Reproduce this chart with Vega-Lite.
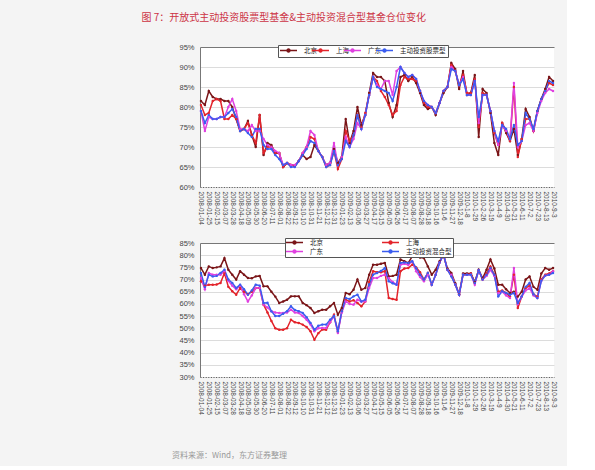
{
"$schema": "https://vega.github.io/schema/vega-lite/v6.json",
"background": "#f4f4f4",
"padding": {"left": 141, "top": 13, "right": 10, "bottom": 5},
"title": {"text": "图 7：开放式主动投资股票型基金&主动投资混合型基金仓位变化", "anchor": "start", "offset": 20, "dx": -30.5, "fontSize": 10, "fontWeight": "normal", "color": "#cc3344", "font": "Noto Sans CJK SC"},
"datasets": {
"stk": [
{"d":"2008-01-04","b":81.5,"s":80.5,"g":79,"z":79},
{"d":"2008-01-11","b":80.5,"s":78,"g":74,"z":76},
{"d":"2008-01-25","b":84,"s":78.5,"g":77.5,"z":78},
{"d":"2008-02-01","b":82.5,"s":81.5,"g":77,"z":77},
{"d":"2008-02-15","b":82,"s":82,"g":77,"z":77},
{"d":"2008-02-22","b":82,"s":81.5,"g":77.5,"z":77.5},
{"d":"2008-03-07","b":81.5,"s":77,"g":77.5,"z":77.5},
{"d":"2008-03-14","b":81.5,"s":77,"g":80,"z":78.5},
{"d":"2008-03-28","b":80,"s":78,"g":82,"z":79.5},
{"d":"2008-04-04","b":77,"s":77,"g":79,"z":77.5},
{"d":"2008-04-18","b":74,"s":74,"g":74.5,"z":74},
{"d":"2008-04-25","b":74.5,"s":74.5,"g":74.5,"z":74.5},
{"d":"2008-05-09","b":76.5,"s":76,"g":74,"z":73.5},
{"d":"2008-05-16","b":73,"s":73,"g":75.5,"z":72.5},
{"d":"2008-05-30","b":70,"s":71,"g":74,"z":74.5},
{"d":"2008-06-06","b":78,"s":78,"g":74,"z":74.5},
{"d":"2008-06-20","b":68,"s":68.5,"g":72,"z":70.5},
{"d":"2008-06-27","b":71,"s":70,"g":70.5,"z":69.5},
{"d":"2008-07-11","b":70.5,"s":70,"g":70,"z":69.5},
{"d":"2008-07-18","b":68.5,"s":68.5,"g":69,"z":68},
{"d":"2008-08-01","b":68.5,"s":68.5,"g":68.5,"z":67},
{"d":"2008-08-08","b":65,"s":65,"g":65.5,"z":65.5},
{"d":"2008-08-22","b":66,"s":66,"g":66,"z":66},
{"d":"2008-08-29","b":65.5,"s":65.5,"g":65.5,"z":65},
{"d":"2008-09-12","b":65.3,"s":65.3,"g":65.5,"z":65},
{"d":"2008-09-19","b":66.5,"s":66.5,"g":66.5,"z":66.5},
{"d":"2008-10-10","b":68,"s":68.5,"g":68.5,"z":68},
{"d":"2008-10-17","b":67,"s":70,"g":70,"z":69.5},
{"d":"2008-10-31","b":67.5,"s":72.5,"g":74,"z":71.5},
{"d":"2008-11-07","b":70.5,"s":72,"g":73,"z":71},
{"d":"2008-11-21","b":69,"s":69,"g":69,"z":69},
{"d":"2008-11-28","b":67.5,"s":67.5,"g":67.5,"z":67.5},
{"d":"2008-12-12","b":65.5,"s":65,"g":65.5,"z":65},
{"d":"2008-12-19","b":66,"s":65.5,"g":66,"z":65.5},
{"d":"2008-12-31","b":69.5,"s":69,"g":71,"z":69},
{"d":"2009-01-09","b":66,"s":64.5,"g":65.5,"z":65.5},
{"d":"2009-01-23","b":67.5,"s":67,"g":67.5,"z":67},
{"d":"2009-01-30","b":77,"s":74,"g":72.5,"z":71.5},
{"d":"2009-02-13","b":71,"s":71.5,"g":70,"z":70},
{"d":"2009-02-20","b":74,"s":73,"g":72,"z":73},
{"d":"2009-03-06","b":80,"s":78,"g":76,"z":78},
{"d":"2009-03-13","b":75.5,"s":75,"g":74.5,"z":74.5},
{"d":"2009-03-27","b":78,"s":78.5,"g":78,"z":78},
{"d":"2009-04-03","b":83.5,"s":83,"g":83,"z":83},
{"d":"2009-04-17","b":88.5,"s":87.5,"g":87.5,"z":87.5},
{"d":"2009-04-24","b":87.5,"s":86.5,"g":85.5,"z":85},
{"d":"2009-05-15","b":87.5,"s":84,"g":84.5,"z":84.5},
{"d":"2009-05-22","b":86.5,"s":82.5,"g":86.5,"z":84},
{"d":"2009-06-05","b":81,"s":80.5,"g":86.5,"z":83.5},
{"d":"2009-06-12","b":77.5,"s":78,"g":83,"z":81.5},
{"d":"2009-06-26","b":80.5,"s":79,"g":89,"z":85},
{"d":"2009-07-03","b":87.5,"s":85.5,"g":90,"z":90},
{"d":"2009-07-17","b":88,"s":87.5,"g":88.5,"z":88.5},
{"d":"2009-07-24","b":86.5,"s":87,"g":87.5,"z":87.5},
{"d":"2009-08-07","b":87.5,"s":87,"g":88,"z":88},
{"d":"2009-08-14","b":86,"s":86.5,"g":87,"z":87},
{"d":"2009-08-28","b":83.5,"s":84,"g":84,"z":84},
{"d":"2009-09-04","b":80.5,"s":81,"g":81.5,"z":81.5},
{"d":"2009-09-18","b":79.5,"s":80,"g":80.5,"z":80.5},
{"d":"2009-09-25","b":80,"s":80,"g":80,"z":80},
{"d":"2009-10-16","b":78,"s":78.5,"g":78.5,"z":78.5},
{"d":"2009-10-23","b":81,"s":81,"g":81,"z":81},
{"d":"2009-11-06","b":83.5,"s":84,"g":84,"z":84},
{"d":"2009-11-13","b":85,"s":85,"g":85,"z":85},
{"d":"2009-11-27","b":91,"s":90.5,"g":90,"z":89.5},
{"d":"2009-12-04","b":89.5,"s":89,"g":89,"z":89},
{"d":"2009-12-18","b":84.5,"s":85.5,"g":85.5,"z":85.5},
{"d":"2009-12-25","b":89,"s":88,"g":87.5,"z":87},
{"d":"2010-01-08","b":83,"s":83.5,"g":83,"z":83},
{"d":"2010-01-15","b":83.5,"s":83.5,"g":83,"z":83},
{"d":"2010-01-29","b":88,"s":87,"g":86.5,"z":86.5},
{"d":"2010-02-05","b":72.5,"s":75,"g":76,"z":77.5},
{"d":"2010-02-26","b":84.5,"s":83.5,"g":83,"z":83},
{"d":"2010-03-05","b":83.5,"s":83,"g":83,"z":83},
{"d":"2010-03-19","b":78.5,"s":79,"g":79,"z":79},
{"d":"2010-03-26","b":71,"s":73.5,"g":74,"z":74},
{"d":"2010-04-09","b":68,"s":70.5,"g":70.5,"z":71.5},
{"d":"2010-04-16","b":76,"s":76,"g":75.5,"z":75.5},
{"d":"2010-04-30","b":73.5,"s":74,"g":74,"z":74.5},
{"d":"2010-05-07","b":71.5,"s":71.5,"g":72,"z":72},
{"d":"2010-05-21","b":74.5,"s":85,"g":86,"z":75.5},
{"d":"2010-05-28","b":68,"s":67.5,"g":70,"z":70.5},
{"d":"2010-06-11","b":72,"s":72,"g":71.5,"z":71.5},
{"d":"2010-06-18","b":79.5,"s":77,"g":75.5,"z":78.5},
{"d":"2010-07-02","b":77.5,"s":77,"g":76,"z":77},
{"d":"2010-07-09","b":74,"s":74,"g":74,"z":74.5},
{"d":"2010-07-23","b":79,"s":79,"g":78.5,"z":79},
{"d":"2010-07-30","b":82,"s":82,"g":81.5,"z":82},
{"d":"2010-08-13","b":84.5,"s":84,"g":83.5,"z":84},
{"d":"2010-08-20","b":87.5,"s":86,"g":84.5,"z":86.5},
{"d":"2010-09-03","b":86.5,"s":85.5,"g":84,"z":86}
],
"mix": [
{"d":"2008-01-04","b":74.7,"s":69.3,"g":70.6,"z":72.7},
{"d":"2008-01-11","b":72,"s":67.5,"g":66,"z":67},
{"d":"2008-01-25","b":75.4,"s":67.9,"g":72.7,"z":72},
{"d":"2008-02-01","b":74.7,"s":67.9,"g":72,"z":71.3},
{"d":"2008-02-15","b":75,"s":68,"g":72,"z":71.5},
{"d":"2008-02-22","b":75.4,"s":68.6,"g":72,"z":72.7},
{"d":"2008-03-07","b":78.8,"s":72.7,"g":73.4,"z":74},
{"d":"2008-03-14","b":74,"s":67,"g":69.5,"z":70},
{"d":"2008-03-28","b":72,"s":65.2,"g":67.5,"z":68.6},
{"d":"2008-04-04","b":70,"s":63.8,"g":66,"z":66.5},
{"d":"2008-04-18","b":73.4,"s":66.5,"g":67.5,"z":67.9},
{"d":"2008-04-25","b":72,"s":65,"g":64,"z":66},
{"d":"2008-05-09","b":70.6,"s":64,"g":61,"z":63.8},
{"d":"2008-05-16","b":70.5,"s":65,"g":63.5,"z":65.5},
{"d":"2008-05-30","b":71.3,"s":66.5,"g":66.5,"z":67.9},
{"d":"2008-06-06","b":71.5,"s":66.5,"g":66.5,"z":67.5},
{"d":"2008-06-20","b":67.2,"s":59.7,"g":59.7,"z":60.4},
{"d":"2008-06-27","b":67.2,"s":56.5,"g":58.5,"z":60.5},
{"d":"2008-07-11","b":65,"s":53,"g":57,"z":57},
{"d":"2008-07-18","b":63,"s":50,"g":56.5,"z":55},
{"d":"2008-08-01","b":60.4,"s":49.4,"g":56.3,"z":55},
{"d":"2008-08-08","b":61,"s":49.4,"g":56.3,"z":56},
{"d":"2008-08-22","b":61.7,"s":50,"g":56.5,"z":57},
{"d":"2008-08-29","b":63.1,"s":53.5,"g":57.6,"z":59},
{"d":"2008-09-12","b":63.1,"s":52.5,"g":56.5,"z":57.5},
{"d":"2008-09-19","b":63.1,"s":52.2,"g":56.3,"z":57},
{"d":"2008-10-10","b":60.4,"s":51.5,"g":55,"z":56.3},
{"d":"2008-10-17","b":59.5,"s":50.5,"g":53.5,"z":54.5},
{"d":"2008-10-31","b":58.3,"s":48.8,"g":51.5,"z":52.2},
{"d":"2008-11-07","b":56.3,"s":45.3,"g":48.8,"z":49.4},
{"d":"2008-11-21","b":57,"s":48,"g":50,"z":51},
{"d":"2008-11-28","b":57.6,"s":49.5,"g":50.1,"z":51.5},
{"d":"2008-12-12","b":57.6,"s":49.4,"g":50.1,"z":51.5},
{"d":"2008-12-19","b":59,"s":52.5,"g":52.5,"z":53.5},
{"d":"2008-12-31","b":60.4,"s":55.6,"g":55,"z":55},
{"d":"2009-01-09","b":55.6,"s":48.5,"g":48.1,"z":48.8},
{"d":"2009-01-23","b":58.3,"s":57,"g":56.5,"z":57},
{"d":"2009-01-30","b":64.5,"s":61.7,"g":61,"z":62.4},
{"d":"2009-02-13","b":64,"s":61,"g":60,"z":62},
{"d":"2009-02-20","b":65.8,"s":61.5,"g":59.7,"z":63.1},
{"d":"2009-03-06","b":70,"s":60.4,"g":61.7,"z":63.8},
{"d":"2009-03-13","b":65.8,"s":59,"g":61,"z":61},
{"d":"2009-03-27","b":66.5,"s":61,"g":61,"z":61.7},
{"d":"2009-04-03","b":72,"s":69,"g":66.5,"z":68},
{"d":"2009-04-17","b":76.1,"s":73.4,"g":70.6,"z":72},
{"d":"2009-04-24","b":76.1,"s":73,"g":70.6,"z":72.7},
{"d":"2009-05-15","b":76.5,"s":73,"g":71.5,"z":73.5},
{"d":"2009-05-22","b":76.8,"s":73.4,"g":72,"z":74.7},
{"d":"2009-06-05","b":71.3,"s":62.4,"g":70.6,"z":69.3},
{"d":"2009-06-12","b":71.5,"s":62,"g":69,"z":68.5},
{"d":"2009-06-26","b":72,"s":61.7,"g":67.9,"z":67.9},
{"d":"2009-07-03","b":78.2,"s":73.4,"g":76.1,"z":76.8},
{"d":"2009-07-17","b":77.5,"s":74.5,"g":76.5,"z":77},
{"d":"2009-07-24","b":76.8,"s":74.7,"g":76,"z":76.8},
{"d":"2009-08-07","b":79.5,"s":76.1,"g":77.5,"z":77.5},
{"d":"2009-08-14","b":79.5,"s":75,"g":73.4,"z":74.7},
{"d":"2009-08-28","b":79,"s":73,"g":71,"z":72},
{"d":"2009-09-04","b":78.8,"s":70,"g":69.3,"z":70},
{"d":"2009-09-18","b":75.4,"s":72.7,"g":72,"z":72.7},
{"d":"2009-09-25","b":72,"s":67.9,"g":67.9,"z":67.9},
{"d":"2009-10-16","b":74,"s":72,"g":72,"z":72},
{"d":"2009-10-23","b":77.5,"s":77,"g":77,"z":77},
{"d":"2009-11-06","b":80.2,"s":80.2,"g":80.2,"z":80.2},
{"d":"2009-11-13","b":74.5,"s":74,"g":74,"z":74},
{"d":"2009-11-27","b":72.7,"s":71.5,"g":72,"z":71.3},
{"d":"2009-12-04","b":68.5,"s":68,"g":68,"z":68},
{"d":"2009-12-18","b":64,"s":63.8,"g":63.8,"z":63.8},
{"d":"2009-12-25","b":72.5,"s":72,"g":72,"z":72},
{"d":"2010-01-08","b":72.5,"s":72,"g":72,"z":72},
{"d":"2010-01-15","b":72.5,"s":72.5,"g":72,"z":72},
{"d":"2010-01-29","b":69,"s":68.6,"g":67.9,"z":68.6},
{"d":"2010-02-05","b":74,"s":73.8,"g":73.8,"z":73.8},
{"d":"2010-02-26","b":70.5,"s":70,"g":70,"z":70},
{"d":"2010-03-05","b":74,"s":72.5,"g":71.5,"z":72},
{"d":"2010-03-19","b":78.2,"s":75.4,"g":74,"z":74.7},
{"d":"2010-03-26","b":74.5,"s":72,"g":71.5,"z":72},
{"d":"2010-04-09","b":67.9,"s":65,"g":64.5,"z":63.1},
{"d":"2010-04-16","b":67.9,"s":65.5,"g":65,"z":65.2},
{"d":"2010-04-30","b":66,"s":64.5,"g":63.5,"z":64.5},
{"d":"2010-05-07","b":64.5,"s":63,"g":62.4,"z":63.8},
{"d":"2010-05-21","b":65,"s":72,"g":74.7,"z":64.5},
{"d":"2010-05-28","b":63,"s":58.3,"g":60,"z":60.4},
{"d":"2010-06-11","b":65,"s":63,"g":63,"z":63.1},
{"d":"2010-06-18","b":70,"s":66.5,"g":65.5,"z":67},
{"d":"2010-07-02","b":71.3,"s":67.5,"g":66.5,"z":68.6},
{"d":"2010-07-09","b":67,"s":64,"g":63.5,"z":64},
{"d":"2010-07-23","b":65.8,"s":63,"g":62.4,"z":62.4},
{"d":"2010-07-30","b":72.5,"s":70,"g":69.5,"z":69.5},
{"d":"2010-08-13","b":74.7,"s":72,"g":71.6,"z":71.6},
{"d":"2010-08-20","b":74,"s":72.5,"g":72,"z":72},
{"d":"2010-09-03","b":74.7,"s":73.5,"g":73.4,"z":72.7}
]
},
"spacing": 12,
"resolve": {"scale": {"color": "independent", "strokeWidth": "independent"}},
"vconcat": [
{
"width": 354, "height": 140,
"data": {"name": "stk"},
"transform": [{"fold": ["b", "s", "g", "z"], "as": ["k", "v"]}],
"mark": {"type": "line", "point": {"filled": true, "size": 6}},
"encoding": {
"x": {"field": "d", "type": "ordinal", "sort": "ascending", "scale": {"type": "point", "padding": 0.25},
 "axis": {"title": null, "values": ["2008-01-04","2008-01-25","2008-02-15","2008-03-07","2008-03-28","2008-04-18","2008-05-09","2008-05-30","2008-06-20","2008-07-11","2008-08-01","2008-08-22","2008-09-12","2008-10-10","2008-10-31","2008-11-21","2008-12-12","2008-12-31","2009-01-23","2009-02-13","2009-03-06","2009-03-27","2009-04-17","2009-05-15","2009-06-05","2009-06-26","2009-07-17","2009-08-07","2009-08-28","2009-09-18","2009-10-16","2009-11-06","2009-11-27","2009-12-18","2010-01-08","2010-01-29","2010-02-26","2010-03-19","2010-04-09","2010-04-30","2010-05-21","2010-06-11","2010-07-02","2010-07-23","2010-08-13","2010-09-03"],
 "labelExpr": "datum.value >= '2009-11' ? (slice(datum.value,0,5) + toNumber(slice(datum.value,5,7)) + '-' + toNumber(slice(datum.value,8,10))) : datum.value",
 "labelAngle": 90, "labelOverlap": false, "ticks": false, "grid": false, "domainColor": "#555", "domainDash": [1, 1.6], "labelFontSize": 6.5, "labelColor": "#444", "labelPadding": 4, "labelFont": "Liberation Sans"}},
"y": {"field": "v", "type": "quantitative", "scale": {"domain": [60, 95], "nice": false, "zero": false},
 "axis": {"title": null, "values": [60,65,70,75,80,85,90,95], "labelExpr": "datum.value + '%'", "grid": true, "gridColor": {"condition": {"test": "datum.value == 95", "value": "#777777"}, "value": "#dcdcdc"}, "domainColor": "#777", "ticks": false, "labelFontSize": 7.5, "labelColor": "#444", "labelPadding": 6, "labelFont": "Liberation Sans"}},
"color": {"field": "k", "type": "nominal", "scale": {"domain": ["b", "s", "g", "z"], "range": ["#7a1518", "#e3242b", "#e040e0", "#3a5cf0"]},
 "legend": {"orient": "none", "legendX": 78, "legendY": -2, "direction": "horizontal", "columns": 4, "gridAlign": "none", "title": null,
  "labelExpr": "datum.label == 'b' ? '北京' : datum.label == 's' ? '上海' : datum.label == 'g' ? '广东' : '主动投资股票型'",
  "symbolType": "M-3.4,0H3.4M0.6,0A0.6,0.6,0,1,1,-0.6,0A0.6,0.6,0,1,1,0.6,0Z", "symbolSize": 25, "symbolOffset": 5, "symbolStrokeWidth": 1.5, "symbolFillColor": "white",
  "labelFontSize": 6.5, "labelFont": "Noto Sans CJK SC", "labelColor": "#222", "strokeColor": "#555", "fillColor": "white", "padding": 2, "columnPadding": -8, "labelOffset": 12}},
"strokeWidth": {"field": "k", "type": "ordinal", "scale": {"domain": ["b", "s", "g", "z"], "range": [1.5, 1.5, 1.5, 2.5]}, "legend": null}
}
},
{
"width": 354, "height": 134,
"data": {"name": "mix"},
"title": {"text": "资料来源：Wind，东方证券整理", "orient": "bottom", "anchor": "start", "offset": 38, "dx": -7, "fontSize": 8, "fontWeight": "normal", "color": "#999999", "font": "Noto Sans CJK SC"},
"transform": [{"fold": ["b", "s", "g", "z"], "as": ["k", "v"]}],
"mark": {"type": "line", "point": {"filled": true, "size": 6}},
"encoding": {
"x": {"field": "d", "type": "ordinal", "sort": "ascending", "scale": {"type": "point", "padding": 0.25},
 "axis": {"title": null, "values": ["2008-01-04","2008-01-25","2008-02-15","2008-03-07","2008-03-28","2008-04-18","2008-05-09","2008-05-30","2008-06-20","2008-07-11","2008-08-01","2008-08-22","2008-09-12","2008-10-10","2008-10-31","2008-11-21","2008-12-12","2008-12-31","2009-01-23","2009-02-13","2009-03-06","2009-03-27","2009-04-17","2009-05-15","2009-06-05","2009-06-26","2009-07-17","2009-08-07","2009-08-28","2009-09-18","2009-10-16","2009-11-06","2009-11-27","2009-12-18","2010-01-08","2010-01-29","2010-02-26","2010-03-19","2010-04-09","2010-04-30","2010-05-21","2010-06-11","2010-07-02","2010-07-23","2010-08-13","2010-09-03"],
 "labelExpr": "datum.value >= '2009-11' ? (slice(datum.value,0,5) + toNumber(slice(datum.value,5,7)) + '-' + toNumber(slice(datum.value,8,10))) : datum.value",
 "labelAngle": 90, "labelOverlap": false, "ticks": false, "grid": false, "domainColor": "#555", "domainDash": [1, 1.6], "labelFontSize": 6.5, "labelColor": "#444", "labelPadding": 4, "labelFont": "Liberation Sans"}},
"y": {"field": "v", "type": "quantitative", "scale": {"domain": [30, 85], "nice": false, "zero": false},
 "axis": {"title": null, "values": [30,35,40,45,50,55,60,65,70,75,80,85], "labelExpr": "datum.value + '%'", "grid": true, "gridColor": {"condition": {"test": "datum.value == 85", "value": "#777777"}, "value": "#dcdcdc"}, "domainColor": "#777", "ticks": false, "labelFontSize": 7.5, "labelColor": "#444", "labelPadding": 6, "labelFont": "Liberation Sans"}},
"color": {"field": "k", "type": "nominal", "scale": {"domain": ["b", "s", "g", "z"], "range": ["#7a1518", "#e3242b", "#e040e0", "#3a5cf0"]},
 "legend": {"orient": "none", "legendX": 85, "legendY": -5, "direction": "horizontal", "columns": 2, "title": null,
  "labelExpr": "datum.label == 'b' ? '北京' : datum.label == 's' ? '上海' : datum.label == 'g' ? '广东' : '主动投资混合型'",
  "symbolType": "M-3.4,0H3.4M0.6,0A0.6,0.6,0,1,1,-0.6,0A0.6,0.6,0,1,1,0.6,0Z", "symbolSize": 25, "symbolOffset": 5, "symbolStrokeWidth": 1.5, "symbolFillColor": "white",
  "labelFontSize": 6.5, "labelFont": "Noto Sans CJK SC", "labelColor": "#222", "strokeColor": "#555", "fillColor": "white", "padding": 1, "columnPadding": 56, "rowPadding": 0, "labelOffset": 12}},
"strokeWidth": {"field": "k", "type": "ordinal", "scale": {"domain": ["b", "s", "g", "z"], "range": [1.5, 1.5, 1.5, 2.5]}, "legend": null}
}
}
],
"config": {"view": {"fill": "white", "stroke": null}, "font": "Liberation Sans"}
}
